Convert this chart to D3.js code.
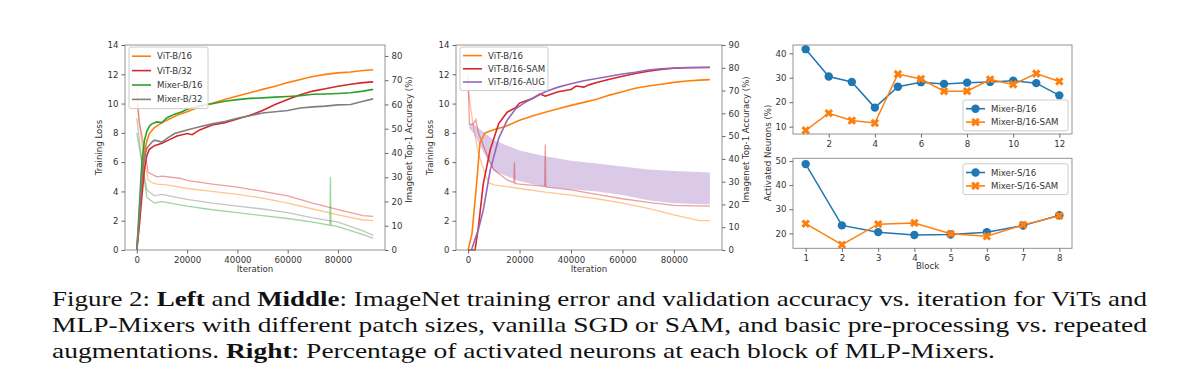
<!DOCTYPE html>
<html>
<head>
<meta charset="utf-8">
<script src="https://cdn.jsdelivr.net/npm/d3@7"></script>
<style>
  body { margin: 0; background: #fff; }
  svg { display: block; }
  .tick text { font-family: "DejaVu Sans", sans-serif; font-size: 8.6px; fill: #333; }
  .lbl { font-family: "DejaVu Sans", sans-serif; font-size: 8.6px; fill: #333; }
  .cap { font-family: "Liberation Serif", "Times New Roman", serif; font-size: 22px; fill: #111; }
</style>
</head>
<body>
<script>
// ---- data ----
// left panel: accuracy in %, right axis
var vitB16Acc = [[0,0],[1000,12],[2000,28],[3000,40],[4000,45],[5000,48],[7000,50.5],[10000,52.5],[13000,54],[16000,55.5],[20000,57],[25000,59],[30000,60.5],[35000,62],[40000,63.5],[45000,64.8],[50000,66.2],[55000,67.5],[60000,69],[65000,70.3],[70000,71.5],[75000,72.4],[80000,73],[85000,73.4],[90000,74],[94000,74.3]];
var vitB32Acc = [[0,0],[1000,10],[2000,22],[3000,33],[4000,39],[5000,41.5],[7000,43],[10000,44],[13000,45.5],[16000,47],[20000,48],[22000,47.5],[25000,49.5],[30000,51.5],[35000,52.5],[40000,54],[45000,55.5],[50000,57.5],[55000,60],[60000,62],[65000,64],[70000,65.5],[75000,66.5],[80000,67.5],[85000,68.3],[90000,69],[94000,69.3]];
var mixB16Acc = [[0,0],[1000,18],[2000,36],[3000,45],[4000,49],[5000,51],[6000,52],[8000,52.8],[10000,52.5],[12000,54.5],[15000,56],[18000,57],[20000,58],[25000,59.5],[30000,60.3],[35000,61.3],[40000,62],[45000,62.5],[50000,62.7],[55000,63],[60000,63.3],[65000,63.6],[70000,64.2],[75000,64.3],[80000,64.5],[85000,64.8],[90000,65.5],[94000,66.2]];
var mixB32Acc = [[0,0],[1000,14],[2000,30],[3000,38],[4000,42],[6000,44.5],[7000,45.3],[10000,44.5],[12000,46],[15000,48],[20000,49.5],[25000,50.8],[30000,52],[35000,53],[40000,54.3],[45000,55.3],[50000,56.5],[55000,57],[60000,57.5],[65000,58.5],[70000,59],[75000,59.3],[80000,59.8],[85000,60],[90000,61.3],[94000,62.3]];
// left panel: training loss, left axis
var vitB16Loss = [[0,10],[1500,8],[3000,6],[4500,4.8],[6000,4.6],[8000,4.5],[12000,4.45],[20000,4.2],[30000,4.0],[40000,3.8],[50000,3.55],[60000,3.2],[70000,2.8],[80000,2.4],[90000,2.05],[94000,2.0]];
var vitB32Loss = [[0,11],[1000,8.7],[3000,7],[4500,5.3],[8000,5.0],[10000,5.05],[17000,4.9],[20000,4.75],[30000,4.5],[40000,4.3],[50000,4.0],[60000,3.7],[70000,3.2],[80000,2.75],[90000,2.35],[94000,2.3]];
var mixB16Loss = [[0,8],[2000,6],[4000,3.6],[7000,3.2],[10000,3.3],[20000,3.0],[30000,2.75],[40000,2.55],[50000,2.35],[60000,2.15],[70000,1.9],[76800,1.7],[77000,5.0],[77200,1.7],[80000,1.6],[90000,1.05],[94000,0.8]];
var mixB32Loss = [[0,9],[2000,6],[4000,4.1],[7000,3.7],[10000,3.8],[20000,3.45],[30000,3.2],[40000,3.0],[50000,2.8],[60000,2.55],[70000,2.2],[80000,1.9],[90000,1.3],[94000,1.0]];

// middle panel: accuracy in %, right axis
var midVitAcc = [[0,0],[1500,7],[3300,29],[4600,47],[6600,51.4],[10500,53],[14500,54.2],[20000,57],[25000,58.8],[30000,60.5],[35000,62],[40000,63.5],[45000,64.8],[50000,66.2],[55000,68],[60000,69.5],[65000,71],[70000,72],[75000,72.8],[80000,73.6],[85000,74.2],[90000,74.6],[94000,74.8]];
var midSamAcc = [[0,0],[2700,0],[4000,10],[5900,29],[8600,44],[11900,55.5],[15200,60.5],[18500,62.5],[20000,64.5],[25000,66.5],[28000,68.5],[30000,67.5],[35000,69.5],[40000,70.5],[42000,72],[45000,71.5],[47000,72.5],[50000,73.5],[55000,75],[60000,76.3],[65000,77.5],[70000,78.5],[75000,79.3],[80000,79.8],[85000,80],[94000,80.1]];
var midAugAcc = [[1300,0],[4000,9],[5900,17.5],[8600,35],[11900,49],[15200,57],[18500,62],[21700,64.5],[25000,66.5],[30000,69.5],[35000,71.5],[40000,73],[45000,74.3],[50000,75.3],[55000,76.3],[60000,77.3],[65000,78],[70000,79],[75000,79.6],[80000,79.9],[85000,80.1],[94000,80.2]];
// middle panel: training loss, left axis
var midVitLoss = [[0,11],[2000,8.5],[4000,6.6],[6000,5.5],[8000,4.6],[10000,4.45],[20000,4.2],[30000,3.95],[40000,3.75],[50000,3.5],[60000,3.2],[70000,2.85],[80000,2.4],[90000,2.0],[94000,2.0]];
var midSamLoss = [[0,12],[500,8.6],[2000,8.6],[3000,8.9],[4000,8.0],[8000,6.2],[10000,5.5],[15000,4.8],[17800,4.6],[18000,6.0],[18200,4.55],[20000,4.5],[29800,4.35],[30000,7.2],[30200,4.3],[40000,4.1],[50000,3.8],[60000,3.5],[70000,3.25],[80000,3.05],[94000,3.0]];
var midAugHigh = [[500,8.6],[2000,8.6],[5000,8.2],[10000,7.5],[20000,6.8],[30000,6.4],[40000,6.1],[50000,5.9],[60000,5.7],[70000,5.5],[80000,5.4],[94000,5.3]];
var midAugLow = [[500,8.3],[2000,8.0],[5000,7.0],[10000,5.4],[15000,4.7],[20000,4.3],[30000,4.15],[40000,4.0],[50000,3.75],[60000,3.4],[70000,3.2],[80000,3.1],[94000,3.1]];

// right panels: activated neurons (%) per block
var blocksB = [1,2,3,4,5,6,7,8,9,10,11,12];
var mixerB16 = [41.7,30.5,28.3,17.8,26.3,28.2,27.5,28.0,28.3,28.8,27.8,22.8];
var mixerB16Sam = [8.5,15.5,12.5,11.5,31.5,29.5,24.5,24.5,29.3,27.3,31.7,28.5];
var blocksS = [1,2,3,4,5,6,7,8];
var mixerS16 = [48.7,23.3,20.5,19.3,19.5,20.5,23.2,27.5];
var mixerS16Sam = [24.0,15.3,23.8,24.3,19.8,18.8,23.5,27.3];

var xTicks = [0,20000,40000,60000,80000];

var C = {orange:"#ff7f0e", red:"#d62728", green:"#2ca02c", gray:"#7f7f7f", purple:"#9467bd", blue:"#1f77b4"};

var svg = d3.select("body").append("svg").attr("width",1200).attr("height",383);

function frame(g, w, h){
  g.append("rect").attr("width",w).attr("height",h)
    .attr("fill","none").attr("stroke","#888").attr("stroke-width",0.9);
}
function styleAxis(a){
  a.select(".domain").remove();
  a.selectAll(".tick line").attr("stroke","#666");
}

function legend(g, x, y, w, items, rowH){
  var h = items.length*rowH + 4;
  g.append("rect").attr("x",x).attr("y",y).attr("width",w).attr("height",h).attr("rx",2)
    .attr("fill","#fff").attr("fill-opacity",0.85).attr("stroke","#ccc");
  items.forEach(function(it,i){
    var yy = y + 2 + rowH/2 + i*rowH;
    g.append("line").attr("x1",x+3).attr("x2",x+22).attr("y1",yy).attr("y2",yy)
      .attr("stroke",it.color).attr("stroke-width",1.6);
    if(it.marker) it.marker(g.append("g").attr("transform","translate("+(x+12.5)+","+yy+")"));
    g.append("text").attr("class","lbl").attr("x",x+28).attr("y",yy).attr("dy","0.35em").text(it.name);
  });
}

function trainPanel(left, rightMax, accs, losses, band, legendItems, legendW, rowH){
  var w = left.w, h = 205;
  var g = svg.append("g").attr("transform","translate("+left.x+",45)");
  var x = d3.scaleLinear().domain([-4700,98700]).range([0,w]);
  var yL = d3.scaleLinear().domain([0,14]).range([h,0]);
  var yR = d3.scaleLinear().domain([0,rightMax]).range([h,0]);

  var lineL = d3.line().x(function(d){return x(d[0]);}).y(function(d){return yL(d[1]);});
  var lineR = d3.line().x(function(d){return x(d[0]);}).y(function(d){return yR(d[1]);});

  if(band){
    var area = d3.area().x(function(d){return x(d[0]);})
      .y0(function(d,i){return yL(band.low[i][1]);}).y1(function(d){return yL(d[1]);});
    g.append("path").attr("d",area(band.high)).attr("fill",C.purple).attr("opacity",0.35);
  }
  losses.forEach(function(s){
    g.append("path").attr("d",lineL(s.data)).attr("fill","none")
      .attr("stroke",s.color).attr("stroke-width",1.3).attr("opacity",0.45);
  });
  accs.forEach(function(s){
    g.append("path").attr("d",lineR(s.data)).attr("fill","none")
      .attr("stroke",s.color).attr("stroke-width",1.6);
  });
  frame(g,w,h);

  var ax = g.append("g").attr("transform","translate(0,"+h+")")
    .call(d3.axisBottom(x).tickValues(xTicks).tickSize(3.5).tickPadding(3).tickFormat(d3.format("d")));
  styleAxis(ax);
  var ayl = g.append("g").call(d3.axisLeft(yL).tickValues(d3.range(0,15,2)).tickSize(3.5).tickPadding(3));
  styleAxis(ayl);
  var ayr = g.append("g").attr("transform","translate("+w+",0)")
    .call(d3.axisRight(yR).tickValues(d3.range(0,rightMax+0.1,10)).tickSize(3.5).tickPadding(3));
  styleAxis(ayr);

  g.append("text").attr("class","lbl").attr("x",w/2).attr("y",h+22).attr("text-anchor","middle").text("Iteration");
  g.append("text").attr("class","lbl").attr("transform","translate(-23,"+(h/2)+") rotate(-90)")
    .attr("text-anchor","middle").text("Training Loss");
  g.append("text").attr("class","lbl").attr("transform","translate("+(w+27)+","+(h/2-8)+") rotate(-90)")
    .attr("text-anchor","middle").text("Imagenet Top-1 Accuracy (%)");

  legend(g, 4, 2, legendW, legendItems, rowH);
}

trainPanel({x:125,w:260}, 84.5,
  [{data:vitB16Acc,color:C.orange},{data:vitB32Acc,color:C.red},{data:mixB16Acc,color:C.green},{data:mixB32Acc,color:C.gray}],
  [{data:vitB16Loss,color:C.orange},{data:vitB32Loss,color:C.red},{data:mixB16Loss,color:C.green},{data:mixB32Loss,color:C.gray}],
  null,
  [{name:"ViT-B/16",color:C.orange},{name:"ViT-B/32",color:C.red},{name:"Mixer-B/16",color:C.green},{name:"Mixer-B/32",color:C.gray}],
  79, 14.4);

trainPanel({x:456,w:266}, 90,
  [{data:midVitAcc,color:C.orange},{data:midSamAcc,color:C.red},{data:midAugAcc,color:C.purple}],
  [{data:midVitLoss,color:C.orange},{data:midSamLoss,color:C.red}],
  {high:midAugHigh, low:midAugLow},
  [{name:"ViT-B/16",color:C.orange},{name:"ViT-B/16-SAM",color:C.red},{name:"ViT-B/16-AUG",color:C.purple}],
  88, 13.2);

function circleMarker(sel){ sel.append("circle").attr("r",4.2).attr("fill",C.blue); }
function crossMarker(sel){
  sel.append("path").attr("d",d3.symbol(d3.symbolCross,46)()).attr("transform","rotate(45)").attr("fill",C.orange);
}

function blockPanel(top, h, blocks, a, b, xDom, yDom, yTicks, names, showXLabel, legendY){
  var w = 279;
  var g = svg.append("g").attr("transform","translate(793,"+top+")");
  var x = d3.scaleLinear().domain(xDom).range([0,w]);
  var y = d3.scaleLinear().domain(yDom).range([h,0]);
  var line = d3.line().x(function(d,i){return x(blocks[i]);}).y(function(d){return y(d);});
  [[a,C.blue,circleMarker],[b,C.orange,crossMarker]].forEach(function(s){
    g.append("path").attr("d",line(s[0])).attr("fill","none").attr("stroke",s[1]).attr("stroke-width",1.5);
    s[0].forEach(function(v,i){
      s[2](g.append("g").attr("transform","translate("+x(blocks[i])+","+y(v)+")"));
    });
  });
  frame(g,w,h);
  var xt = blocks.length > 8 ? [2,4,6,8,10,12] : blocks;
  var ax = g.append("g").attr("transform","translate(0,"+h+")")
    .call(d3.axisBottom(x).tickValues(xt).tickSize(3.5).tickPadding(3));
  styleAxis(ax);
  var ay = g.append("g").call(d3.axisLeft(y).tickValues(yTicks).tickSize(3.5).tickPadding(3));
  styleAxis(ay);
  if(showXLabel) g.append("text").attr("class","lbl").attr("x",w/2-5).attr("y",h+21).attr("text-anchor","middle").text("Block");
  legend(g, 170, legendY, 105, [{name:names[0],color:C.blue,marker:circleMarker},{name:names[1],color:C.orange,marker:crossMarker}], 13.4);
}

blockPanel(45, 89, blocksB, mixerB16, mixerB16Sam, [0.45,12.55], [7,43.4], [10,20,30,40], ["Mixer-B/16","Mixer-B/16-SAM"], false, 55);
blockPanel(158.3, 90, blocksS, mixerS16, mixerS16Sam, [0.65,8.35], [13.8,51.1], [20,30,40,50], ["Mixer-S/16","Mixer-S/16-SAM"], true, 5.5);

svg.append("text").attr("class","lbl").attr("transform","translate(771,153) rotate(-90)")
  .attr("text-anchor","middle").text("Activated Neurons (%)");

// caption: the figure text is wider than plain Times, so each line is stretched to its width
var capLines = [
  [["Figure 2: ",0],["Left",1],[" and ",0],["Middle",1],[": ImageNet training error and validation accuracy vs. iteration for ViTs and",0]],
  [["MLP-Mixers with different patch sizes, vanilla SGD or SAM, and basic pre-processing vs. repeated",0]],
  [["augmentations. ",0],["Right",1],[": Percentage of activated neurons at each block of MLP-Mixers.",0]]
];
var capWidths = [1095, 1095, 943];
capLines.forEach(function(parts,i){
  var t = svg.append("text").attr("class","cap").attr("x",52).attr("y",306+i*26);
  parts.forEach(function(p){
    t.append("tspan").attr("font-weight",p[1]?"bold":"normal").text(p[0]);
  });
  t.attr("textLength",capWidths[i]).attr("lengthAdjust","spacingAndGlyphs");
});
</script>
</body>
</html>
